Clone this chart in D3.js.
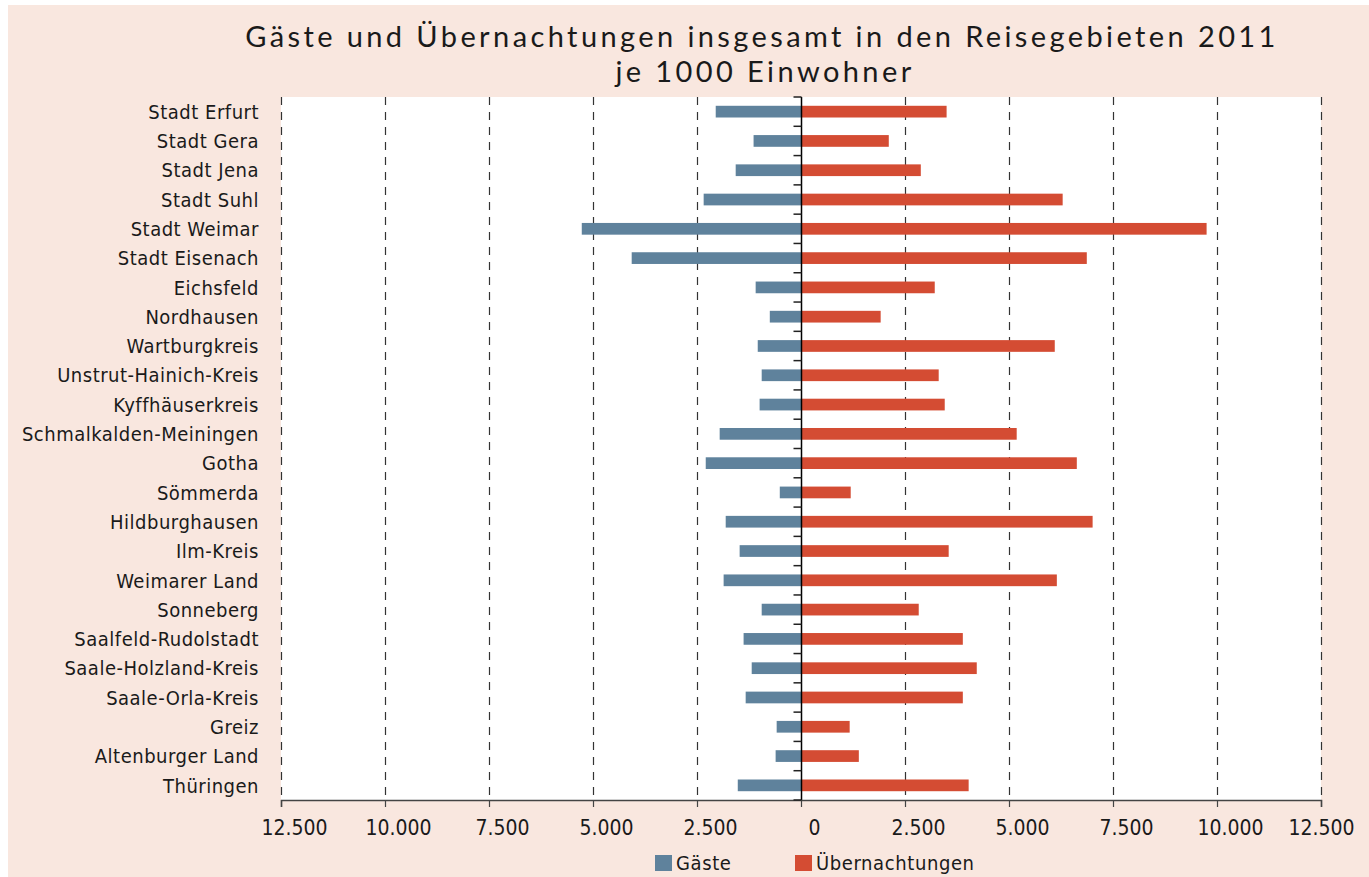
<!DOCTYPE html>
<html>
<head>
<meta charset="utf-8">
<script src="https://cdn.jsdelivr.net/npm/d3@7"></script>
<style>
  body { margin: 0; background: #fff; }
  svg text { font-family: "Liberation Sans Narrow", "DejaVu Sans Condensed", sans-serif; fill: #1a1a1a; }
  .title { font-family: Lato, "Open Sans", sans-serif; font-size: 29px; letter-spacing: 3.4px; }
</style>
</head>
<body>
<div id="chart"></div>
<script>
const regions = ["Stadt Erfurt", "Stadt Gera", "Stadt Jena", "Stadt Suhl", "Stadt Weimar",
    "Stadt Eisenach", "Eichsfeld", "Nordhausen", "Wartburgkreis", "Unstrut-Hainich-Kreis",
    "Kyffhäuserkreis", "Schmalkalden-Meiningen", "Gotha", "Sömmerda", "Hildburghausen",
    "Ilm-Kreis", "Weimarer Land", "Sonneberg", "Saalfeld-Rudolstadt", "Saale-Holzland-Kreis",
    "Saale-Orla-Kreis", "Greiz", "Altenburger Land", "Thüringen"]

const gaeste = [2050, 1140, 1570, 2340, 5270, 4070, 1090, 750, 1040, 945,
    995, 1955, 2290, 510, 1810, 1475, 1860, 945, 1380, 1185,
    1330, 585, 610, 1520]

const uebernachtungen = [3500, 2110, 2880, 6290, 9750, 6870, 3215, 1915, 6100, 3310,
    3455, 5185, 6630, 1195, 7010, 3550, 6150, 2830, 3890, 4225,
    3890, 1170, 1390, 4030]

const xTicks = [-12500, -10000, -7500, -5000, -2500, 0, 2500, 5000, 7500, 10000, 12500]

const W = 1369, H = 877
const plot = { left: 281, right: 1321, top: 97, bottom: 800 }

const svg = d3.select("#chart").append("svg")
    .attr("width", W)
    .attr("height", H)

// pink panel
svg.append("rect")
    .attr("x", 8).attr("y", 5)
    .attr("width", W - 8).attr("height", H - 5)
    .attr("fill", "#f9e7df")

svg.append("rect")
    .attr("x", plot.left).attr("y", plot.top)
    .attr("width", plot.right - plot.left).attr("height", plot.bottom - plot.top)
    .attr("fill", "#fff")

const xScale = d3.scaleLinear().domain([-12500, 12500]).range([plot.left, plot.right])
const yScale = d3.scaleBand().domain(regions).range([plot.top, plot.bottom]).paddingInner(0.6).paddingOuter(0.3)

// title
svg.append("text").attr("class", "title")
    .attr("x", 762).attr("y", 47).attr("text-anchor", "middle")
    .text("Gäste und Übernachtungen insgesamt in den Reisegebieten 2011")
svg.append("text").attr("class", "title")
    .attr("x", 765).attr("y", 82).attr("text-anchor", "middle")
    .text("je 1000 Einwohner")

// dashed gridlines
svg.selectAll(".grid")
    .data(xTicks.filter(d => d !== 0))
    .enter().append("line")
    .attr("class", "grid")
    .attr("x1", d => Math.round(xScale(d)) + 0.5)
    .attr("x2", d => Math.round(xScale(d)) + 0.5)
    .attr("y1", plot.top)
    .attr("y2", plot.bottom)
    .attr("stroke", "#333")
    .attr("stroke-width", 1.2)
    .attr("stroke-dasharray", "8,7")

// bars
svg.selectAll(".gaeste")
    .data(regions)
    .enter().append("rect")
    .attr("class", "gaeste")
    .attr("x", (d, i) => xScale(-gaeste[i]))
    .attr("width", (d, i) => xScale(0) - xScale(-gaeste[i]))
    .attr("y", d => yScale(d))
    .attr("height", yScale.bandwidth())
    .attr("fill", "#5f829c")

svg.selectAll(".ueber")
    .data(regions)
    .enter().append("rect")
    .attr("class", "ueber")
    .attr("x", xScale(0))
    .attr("width", (d, i) => xScale(uebernachtungen[i]) - xScale(0))
    .attr("y", d => yScale(d))
    .attr("height", yScale.bandwidth())
    .attr("fill", "#d44c33")

// bottom axis
const xaxis = d3.axisBottom(xScale)
    .tickValues(xTicks)
    .tickSize(7)
    .tickFormat(d => d3.format(",")(Math.abs(d)).replace(/,/g, "."))

const gx = svg.append("g")
    .attr("transform", `translate(0,${plot.bottom})`)
    .call(xaxis)
gx.select(".domain").attr("stroke", "#444").attr("stroke-width", 1.5)
gx.selectAll(".tick line").attr("stroke", "#444").attr("stroke-width", 1.2)
gx.selectAll(".tick text")
    .attr("font-size", 21)
    .attr("y", 20)
    .attr("dx", d => d === 12500 ? 0 : 13)
    .attr("fill", "#1a1a1a")
    .style("font-family", "'Liberation Sans Narrow', 'DejaVu Sans Condensed', sans-serif")

// zero axis with category boundary ticks
const zx = Math.round(xScale(0)) + 0.5
svg.append("line")
    .attr("x1", zx).attr("x2", zx)
    .attr("y1", plot.top).attr("y2", plot.bottom)
    .attr("stroke", "#000").attr("stroke-width", 1.5)

svg.selectAll(".ytick")
    .data(d3.range(regions.length + 1))
    .enter().append("line")
    .attr("class", "ytick")
    .attr("x1", zx - 8).attr("x2", zx)
    .attr("y1", i => plot.top + i * yScale.step())
    .attr("y2", i => plot.top + i * yScale.step())
    .attr("stroke", "#222").attr("stroke-width", 1.5)

// category labels
svg.selectAll(".cat")
    .data(regions)
    .enter().append("text")
    .attr("class", "cat")
    .attr("x", 259)
    .attr("y", d => yScale(d) + yScale.bandwidth() / 2)
    .attr("dy", "0.36em")
    .attr("text-anchor", "end")
    .attr("font-size", 20)
    .attr("letter-spacing", 0.5)
    .text(d => d)

// legend
const legend = [
    { name: "Gäste", color: "#5f829c", x: 655 },
    { name: "Übernachtungen", color: "#d44c33", x: 795 }
]
const lg = svg.selectAll(".legend")
    .data(legend)
    .enter().append("g")
    .attr("class", "legend")
    .attr("transform", d => `translate(${d.x},855)`)
lg.append("rect")
    .attr("width", 17).attr("height", 16)
    .attr("fill", d => d.color)
lg.append("text")
    .attr("x", 21).attr("y", 8)
    .attr("dy", "0.36em")
    .attr("font-size", 20)
    .attr("letter-spacing", 0.6)
    .text(d => d.name)
</script>
</body>
</html>
